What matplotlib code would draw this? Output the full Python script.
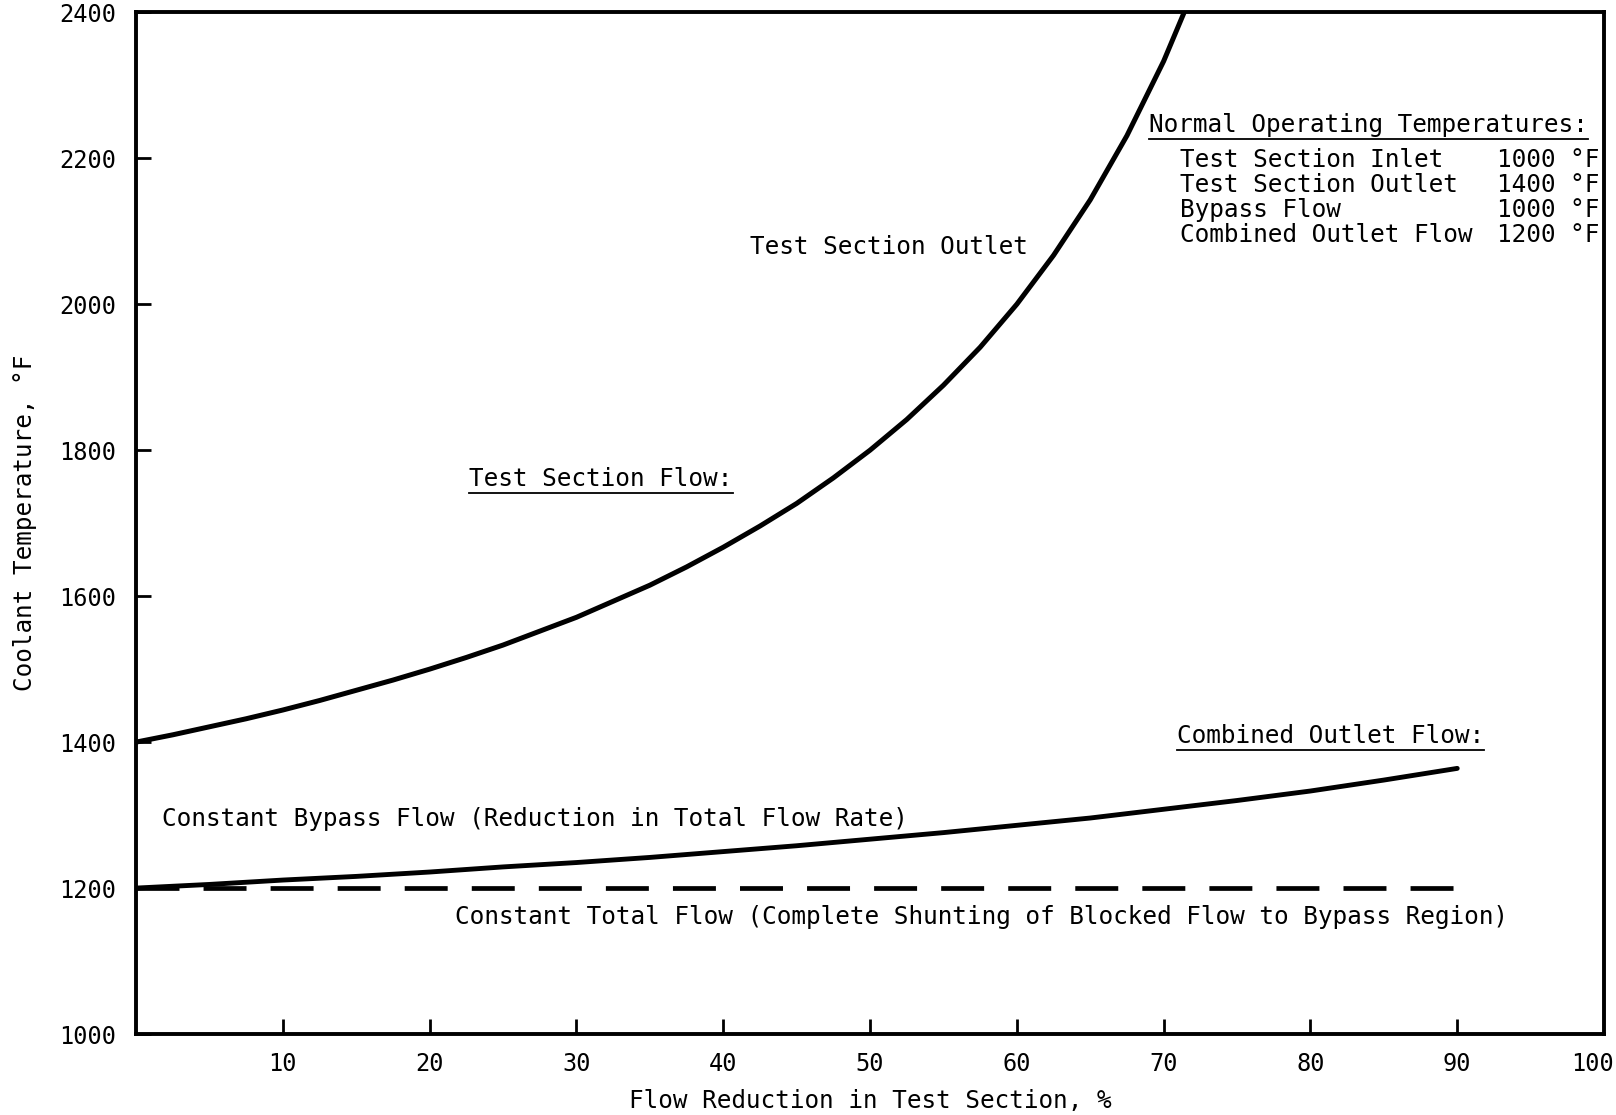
import matplotlib
matplotlib.use("Agg")
import matplotlib.pyplot as plt

plt.rcParams['font.family'] = ['DejaVu Sans Mono', 'DejaVu Sans']

# flow reduction in test section, % -> coolant temperature, F
outlet_x = [0, 2.5, 5, 7.5, 10, 12.5, 15, 17.5, 20, 22.5, 25, 27.5, 30, 32.5, 35, 37.5,
            40, 42.5, 45, 47.5, 50, 52.5, 55, 57.5, 60, 62.5, 65, 67.5, 70, 71.4]
outlet_t = [1400, 1410, 1421, 1432, 1444, 1457, 1471, 1485, 1500, 1516, 1533, 1552, 1571, 1593,
            1615, 1640, 1667, 1696, 1727, 1762, 1800, 1842, 1889, 1941, 2000, 2067, 2143, 2231,
            2333, 2400]

combined_x = [0, 5, 10, 15, 20, 25, 30, 35, 40, 45, 50, 55, 60, 65, 70, 75, 80, 85, 90]
combined_t = [1200, 1205, 1211, 1216, 1222, 1229, 1235, 1242, 1250, 1258, 1267, 1276, 1286,
              1296, 1308, 1320, 1333, 1348, 1364]

total_x = [0, 90]
total_t = [1200, 1200]

xticks = [10, 20, 30, 40, 50, 60, 70, 80, 90]
xlabels = ['10', '20', '30', '40', '50', '60', '70', '80', '90']
yticks = [1000, 1200, 1400, 1600, 1800, 2000, 2200, 2400]

normal_names = ['Test Section Inlet', 'Test Section Outlet', 'Bypass Flow', 'Combined Outlet Flow']
normal_vals = ['1000 °F', '1400 °F', '1000 °F', '1200 °F']

fig = plt.figure(figsize=(16.16, 11.15), dpi=100)
ax = fig.add_axes([0.0842, 0.0726, 0.9084, 0.9164])

ax.plot(outlet_x, outlet_t, color='black', lw=3.6, solid_capstyle='butt')
ax.plot(combined_x, combined_t, color='black', lw=3.5, solid_capstyle='round')
ax.plot(total_x, total_t, color='black', lw=3.4, dashes=(9.1, 5.1))

ax.set_xlim(0, 100)
ax.set_ylim(1000, 2400)
ax.set_xticks(xticks)
ax.set_xticklabels(xlabels)
ax.set_yticks(yticks)

ax.tick_params(axis='x', direction='in', length=11, width=2, pad=13, labelsize=17)
ax.tick_params(axis='y', direction='in', length=11, width=2, pad=14, labelsize=17)
for s in ax.spines.values():
    s.set_linewidth(2.8)

ax.set_xlabel('Flow Reduction in Test Section, %', fontsize=17.5, labelpad=9)
ax.set_ylabel('Coolant Temperature, °F', fontsize=17.5, labelpad=16)

fs = 17.6
ax.text(41.8, 2078, 'Test Section Outlet', fontsize=fs, va='center')
t1 = ax.text(22.7, 1760, 'Test Section Flow:', fontsize=fs, va='center')
t2 = ax.text(70.9, 1408, 'Combined Outlet Flow:', fontsize=fs, va='center')
t3 = ax.text(69.0, 2245, 'Normal Operating Temperatures:', fontsize=fs, va='center', clip_on=False)
ax.text(1.8, 1294, 'Constant Bypass Flow (Reduction in Total Flow Rate)', fontsize=fs, va='center')
ax.text(21.7, 1160, 'Constant Total Flow (Complete Shunting of Blocked Flow to Bypass Region)',
        fontsize=fs, va='center')

step = 34
for i, (n, v) in enumerate(zip(normal_names, normal_vals)):
    ax.text(71.1, 2197 - i * step, n, fontsize=fs, va='center')
    ax.text(92.7, 2197 - i * step, v, fontsize=fs, va='center')

# underline headings, and the "100" label at the right end (no tick there)
fig.canvas.draw()
r = fig.canvas.get_renderer()
inv = ax.transData.inverted()
for t in (t1, t2, t3):
    bb = t.get_window_extent(r)
    (x0, y0), (x1, _) = inv.transform([(bb.x0, bb.y0 - 2), (bb.x1, bb.y0)])
    ax.plot([x0, x1], [y0, y0], color='black', lw=1.3, clip_on=False)

lab = ax.get_xticklabels()[-1].get_window_extent(r)
ycen = (lab.y0 + lab.y1) / 2 / fig.bbox.height
fig.text(0.9985, ycen, '100', ha='right', va='center', fontsize=17)

fig.savefig('out.png', dpi=100)
